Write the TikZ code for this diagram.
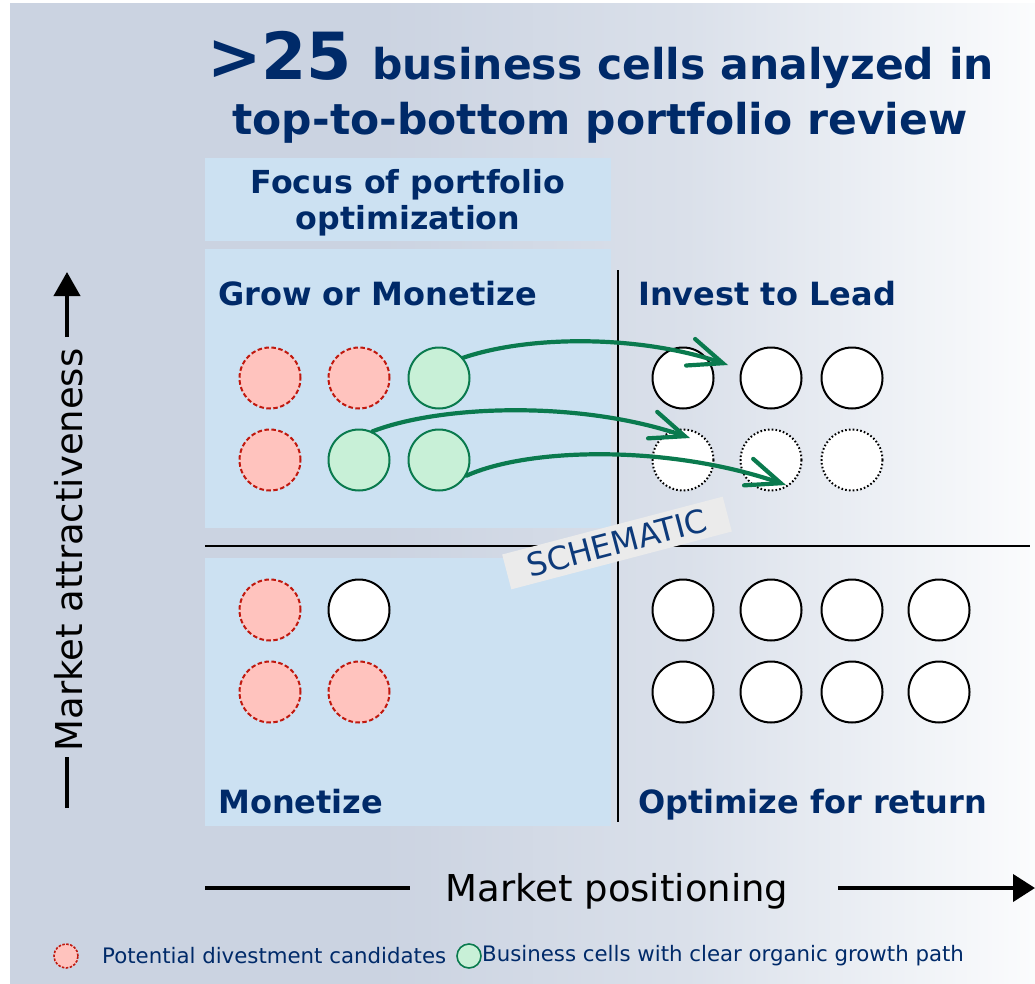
\documentclass[tikz,border=0pt]{standalone}
\usepackage{fontspec}
\setmainfont{DejaVu Sans}
\usetikzlibrary{arrows.meta}
\definecolor{navy}{HTML}{002A69}
\definecolor{bgL}{HTML}{CBD3E1}
\definecolor{bgM}{HTML}{DAE0EA}
\definecolor{bgR}{HTML}{FBFCFD}
\definecolor{qblue}{HTML}{CCE1F2}
\definecolor{redfill}{HTML}{FFC3BE}
\definecolor{redline}{HTML}{C0180E}
\definecolor{grfill}{HTML}{C8F0D7}
\definecolor{grline}{HTML}{0A7A4E}
\definecolor{schem}{HTML}{EBEBEB}
\definecolor{schemtext}{HTML}{0D3A7A}
\pgfdeclarehorizontalshading{bgshade}{100bp}{color(0bp)=(bgL); color(43bp)=(bgL); color(58bp)=(bgM); color(75bp)=(bgR); color(100bp)=(bgR)}
\begin{document}
\begin{tikzpicture}[x=1pt,y=-1pt,
  cell/.style={circle,minimum size=61pt,inner sep=0pt,draw=black,line width=2pt,fill=white},
  divc/.style={cell,fill=redfill,draw=redline,dash pattern=on 4.5pt off 2.5pt},
  grwc/.style={cell,fill=grfill,draw=grline},
  dotc/.style={cell,dash pattern=on 1.6pt off 2.2pt},
  quad/.style={fill=qblue,draw=none},
  qlabel/.style={font=\fontsize{32}{36}\selectfont\bfseries,text=navy,anchor=base west,inner sep=0pt},
  ttl/.style={text=navy,inner sep=0pt},
  mv/.style={draw=grline,line width=4.2pt,line cap=round,-{Straight Barb[length=34pt,width=28pt,line cap=round]}},
  axisline/.style={line width=4pt,draw=black},
  axlabel/.style={font=\fontsize{37}{40}\selectfont,text=black,inner sep=0pt,anchor=base},
  leg/.style={font=\fontsize{21.3}{24}\selectfont,text=navy,inner sep=0pt,anchor=west},
  legc/.style={circle,minimum size=24pt,inner sep=0pt,line width=1.6pt},
]
\useasboundingbox (0,0) rectangle (1035,984);
\shade[shading=bgshade] (10,4) rectangle (1035,984);

% title
\node[ttl,anchor=base west,font=\fontsize{65}{65}\selectfont\bfseries] (t0) at (207,80) {>25};
\node[ttl,anchor=base west,font=\fontsize{42.5}{46}\selectfont\bfseries] (t1) at (372,80) {business cells analyzed in};
\node[ttl,anchor=base,font=\fontsize{42.5}{46}\selectfont\bfseries] (t2) at (600,135) {top-to-bottom portfolio review};

% boxes
\fill[quad] (205,158) rectangle (611,241);
\fill[quad] (205,249) rectangle (611,528);
\fill[quad] (205,558) rectangle (611,826);
\node[ttl,anchor=base,font=\fontsize{31.7}{36}\selectfont\bfseries] (f1) at (408,194) {Focus of portfolio};
\node[ttl,anchor=base,font=\fontsize{31.7}{36}\selectfont\bfseries] (f2) at (408,230) {optimization};

% quadrant dividers
\coordinate (vt) at (618,270);
\coordinate (vb) at (618,822);
\coordinate (hl) at (205,546);
\coordinate (hr) at (1030,546);
\draw[line width=2pt] (vt) -- (vb);
\draw[line width=2pt] (hl) -- (hr);

% quadrant labels
\node[qlabel] (q1) at (218,305) {Grow or Monetize};
\node[qlabel] (q2) at (638,305) {Invest to Lead};
\node[qlabel] (q3) at (218,813) {Monetize};
\node[qlabel] (q4) at (638,813) {Optimize for return};

% top-left cells
\node[divc] (A11) at (270,378) {};
\node[divc] (A12) at (359,378) {};
\node[grwc] (A13) at (439,378) {};
\node[divc] (A21) at (270,460) {};
\node[grwc] (A22) at (359,460) {};
\node[grwc] (A23) at (439,460) {};
% top-right cells
\node[cell] (B11) at (683,378) {};
\node[cell] (B12) at (771,378) {};
\node[cell] (B13) at (852,378) {};
\node[dotc] (B21) at (683,460) {};
\node[dotc] (B22) at (771,460) {};
\node[dotc] (B23) at (852,460) {};
% bottom-left cells
\node[divc] (C11) at (270,610) {};
\node[cell] (C12) at (359,610) {};
\node[divc] (C21) at (270,692) {};
\node[divc] (C22) at (359,692) {};
% bottom-right cells
\node[cell] (D11) at (683,610) {};
\node[cell] (D12) at (771,610) {};
\node[cell] (D13) at (852,610) {};
\node[cell] (D14) at (939,610) {};
\node[cell] (D21) at (683,692) {};
\node[cell] (D22) at (771,692) {};
\node[cell] (D23) at (852,692) {};
\node[cell] (D24) at (939,692) {};

% moves
\coordinate (e1) at (728,365);
\coordinate (e2) at (690,438);
\coordinate (e3) at (786,485);
\draw[mv] (A13.40) .. controls (530,335) and (640,335) .. (e1);
\draw[mv] (A22.65) .. controls (440,405) and (580,400) .. (e2);
\draw[mv] (A23.-30) .. controls (530,447) and (670,445) .. (e3);

% schematic stamp
\node[rotate=14.7,fill=schem,text=schemtext,font=\fontsize{32}{34}\selectfont,minimum width=228pt,minimum height=36pt,inner sep=0pt] (sch) at (617,543) {SCHEMATIC};

% y axis
\coordinate (ya) at (67,808);
\coordinate (yb) at (67,757);
\coordinate (yc) at (67,337);
\coordinate (yd) at (67,272);
\draw[axisline] (ya) -- (yb);
\draw[axisline,-{Triangle[length=24pt,width=26pt]}] (yc) -- (yd);
\node[axlabel,rotate=90] (ylab) at (82,550) {Market attractiveness};

% x axis
\coordinate (xa) at (205,888);
\coordinate (xb) at (410,888);
\coordinate (xc) at (838,888);
\coordinate (xd) at (1035,888);
\draw[axisline] (xa) -- (xb);
\draw[axisline,-{Triangle[length=22pt,width=27pt]}] (xc) -- (xd);
\node[axlabel] (xlab) at (617,901) {Market positioning};

% legend
\node[legc,fill=redfill,draw=redline,dash pattern=on 2.5pt off 1.5pt] (lg1) at (66,956) {};
\node[leg] (lt1) at (102,956) {Potential divestment candidates};
\node[legc,fill=grfill,draw=grline] (lg2) at (469,956) {};
\node[leg] (lt2) at (482,956) {Business cells with clear organic growth path};
\end{tikzpicture}
\end{document}
